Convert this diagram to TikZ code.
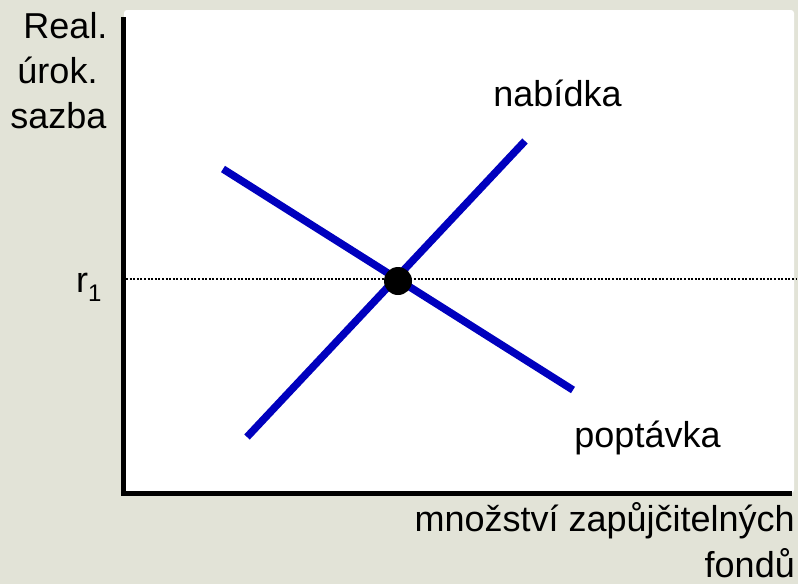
\documentclass[tikz,border=0pt]{standalone}
\usepackage{fontspec}
\setmainfont{Liberation Sans}
\definecolor{bggray}{RGB}{226,227,215}
\definecolor{curveblue}{RGB}{0,0,190}
\tikzset{
  lbl/.style={inner sep=0pt, font=\fontsize{36}{36}\selectfont},
  axisline/.style={line width=5pt, black},
  curve/.style={line width=7.5pt, curveblue},
}
\begin{document}
\begin{tikzpicture}[x=1pt,y=-1pt]
\useasboundingbox (0,0) rectangle (798,584);
\fill[bggray] (0,0) rectangle (798,584);
\fill[white, rounded corners=3pt] (124,10) rectangle (794,493);
% dotted level
\coordinate (dl) at (126,279);
\coordinate (dr) at (797,279);
\draw[line width=1.4pt, dash pattern=on 2pt off 1.6pt] (dl) -- (dr);
% axes
\coordinate (ytop) at (123.5,17);
\coordinate (orig) at (123.5,493);
\coordinate (xend) at (792,493);
\draw[axisline] (ytop) -- (orig) -- (xend);
% curves
\coordinate (s1) at (247,437);
\coordinate (s2) at (525,141);
\coordinate (d1) at (223,169);
\coordinate (d2) at (573,390);
\draw[curve] (s1) -- (s2);
\draw[curve] (d1) -- (d2);
\node[circle, fill=black, minimum size=28pt, inner sep=0pt] (eq) at (398,281) {};
% labels
\node[lbl, anchor=base] (l1) at (65.5,38) {Real.};
\node[lbl, anchor=base] (l2) at (57.5,83) {úrok.};
\node[lbl, anchor=base] (l3) at (58.5,128) {sazba};
\node[lbl, anchor=base west] (r1) at (76,292) {r\raisebox{-9pt}{\fontsize{24}{24}\selectfont 1}};
\node[lbl, anchor=base] (nab) at (557.5,106) {nabídka};
\node[lbl, anchor=base] (pop) at (647.5,447) {poptávka};
\node[lbl, anchor=base east] (x1) at (795,531) {množství zapůjčitelných};
\node[lbl, anchor=base east] (x2) at (795,577) {fondů};
\end{tikzpicture}
\end{document}
